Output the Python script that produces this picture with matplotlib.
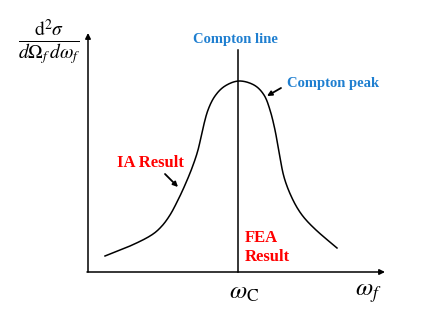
import matplotlib
matplotlib.use("Agg")
import matplotlib.pyplot as plt
import numpy as np

# curve (x: frequency position, y: intensity), pixel-like units
curve_x = [105, 130, 150, 161, 170, 178, 185, 192, 198, 203, 208, 215, 225,
           239, 254, 264, 270, 275, 279, 284, 292, 302, 316, 337]
curve_y = [256, 246, 236, 227, 215, 200, 185, 168, 150, 128, 110, 96, 86,
           81, 85, 95, 110, 130, 152, 177, 198, 215, 230, 248]

compton_x = 238
axis_origin = (88, 272)
axis_end_x = 385
axis_end_y = 33


def smooth(xs, ys, n=20):
    # catmull-rom through the read points
    p = np.column_stack([xs, ys]).astype(float)
    p = np.vstack([p[0], p, p[-1]])
    out = []
    t = np.linspace(0, 1, n, endpoint=False)[:, None]
    for i in range(1, len(p) - 2):
        p0, p1, p2, p3 = p[i - 1], p[i], p[i + 1], p[i + 2]
        seg = 0.5 * ((2 * p1) + (-p0 + p2) * t + (2 * p0 - 5 * p1 + 4 * p2 - p3) * t ** 2
                     + (-p0 + 3 * p1 - 3 * p2 + p3) * t ** 3)
        out.append(seg)
    out.append(p[-2][None, :])
    out = np.vstack(out)
    return out[:, 0], out[:, 1]


plt.rcParams['mathtext.fontset'] = 'stix'
serif = 'Liberation Serif'
blue = '#1f7fd0'
red = '#ff0000'

fig = plt.figure(figsize=(4.36, 3.27), dpi=100)
ax = fig.add_axes([0, 0, 1, 1])
ax.set_xlim(0, 436)
ax.set_ylim(327, 0)
ax.axis('off')

# axes with arrows
ax.annotate('', xy=(axis_end_x, axis_origin[1]), xytext=(axis_origin[0] - 1, axis_origin[1]),
            arrowprops=dict(arrowstyle='-|>', color='black', lw=1.1, mutation_scale=8,
                            shrinkA=0, shrinkB=0))
ax.annotate('', xy=(axis_origin[0], axis_end_y), xytext=(axis_origin[0], axis_origin[1]),
            arrowprops=dict(arrowstyle='-|>', color='black', lw=1.1, mutation_scale=8,
                            shrinkA=0, shrinkB=0))

# compton line
ax.plot([compton_x, compton_x], [50, axis_origin[1]], color='black', lw=1.1)

# curve
sx, sy = smooth(curve_x, curve_y)
ax.plot(sx, sy, color='black', lw=1.1, solid_joinstyle='round')

# labels
ax.text(compton_x - 3, 40, 'Compton line', color=blue, fontsize=10.5, fontweight='bold',
        family=serif, ha='center', va='center')
ax.text(287, 84, 'Compton peak', color=blue, fontsize=10.5, fontweight='bold',
        family=serif, ha='left', va='center')
ax.annotate('', xy=(267, 96), xytext=(281, 88),
            arrowprops=dict(arrowstyle='-|>', color='black', lw=1.3, mutation_scale=7,
                            shrinkA=0, shrinkB=0))

ax.text(150, 163, 'IA Result', color=red, fontsize=12, fontweight='bold',
        family=serif, ha='center', va='center')
ax.annotate('', xy=(178, 187), xytext=(165, 174),
            arrowprops=dict(arrowstyle='-|>', color='black', lw=1.3, mutation_scale=7,
                            shrinkA=0, shrinkB=0))

ax.text(245, 238, 'FEA', color=red, fontsize=12, fontweight='bold',
        family=serif, ha='left', va='center')
ax.text(245, 257, 'Result', color=red, fontsize=12, fontweight='bold',
        family=serif, ha='left', va='center')

ax.text(49, 42, r'$\frac{\mathrm{d}^2\sigma}{d\Omega_f\, d\omega_f}$', fontsize=20,
        ha='center', va='center')
ax.text(compton_x + 6, 292, r'$\omega_{\mathrm{C}}$', fontsize=18, ha='center', va='center')
ax.text(368, 293, r'$\omega_f$', fontsize=18, ha='center', va='center')

fig.savefig('out.png', dpi=100)
